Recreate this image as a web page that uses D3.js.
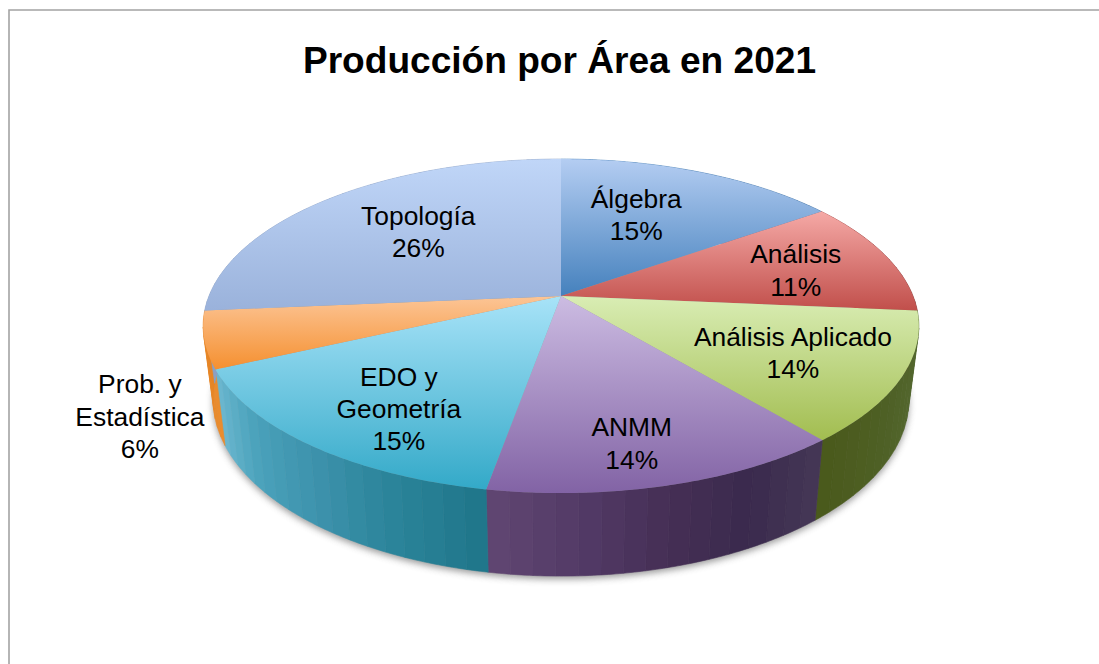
<!DOCTYPE html>
<html lang="es">
<head>
<meta charset="utf-8"/>
<title>Producción por Área en 2021</title>
<script src="https://d3js.org/d3.v7.min.js"></script>
<style>
  html, body { margin: 0; padding: 0; background: #fff; overflow: hidden; }
  svg { display: block; }
  text { font-family: "Liberation Sans", Arial, sans-serif; fill: #000; }
  .title { font-size: 37.1px; font-weight: bold; text-anchor: middle; }
  .label { font-size: 26.4px; text-anchor: middle; }
</style>
</head>
<body>
<div id="chart"></div>
<script>
// data
var title = "Producción por Área en 2021";
var areas = ["Álgebra", "Análisis", "Análisis Aplicado", "ANMM", "EDO y\nGeometría", "Prob. y\nEstadística", "Topología"];
var shares = [15.2, 11.2, 12.55, 13.85, 15.3, 5.5, 26.4]; // size of the drawn wedges
var percents = [15, 11, 14, 14, 15, 6, 26];               // what the labels print

// colours: top face [upper, lower], then side wall left to right along the rim
var topColors = [
  ["#b4cdf2", "#4581bd"],
  ["#f5a9a6", "#c14f4b"],
  ["#d9edb4", "#a2bd50"],
  ["#ccbce2", "#8263a5"],
  ["#a8e3f8", "#33a9c8"],
  ["#fcc596", "#f59030"],
  ["#c0d6f8", "#9ab2db"]
];
var wallColors = [
  ["#4581bd", "#3a6c9e"],
  ["#a33f3c", "#7a2f2d"],
  ["#566b35", "#4a5a1c"],
  ["#443655", "#3a2a4e", "#452f55", "#523a66", "#5f4571"],
  ["#20778b", "#2c859b", "#3e93ad", "#4aa2bb", "#6ab6ce"],
  ["#ea8c2e", "#e58526"],
  ["#8aa0c4", "#8aa0c4"]
];

// label placement: pixels away from the point at 0.62 radius on the wedge's mid angle
var labelNudge = [[-16, 0], [30, 0], [28, 8], [8, 39], [-16, 26], [-204, 94], [7, -1]];

var width = 1099,
    height = 664,
    cx = 561,
    cy = 296,
    radius = 352,
    persp = 0.18,
    squash = 161.6;

var svg = d3.select("#chart").append("svg")
    .attr("width", width)
    .attr("height", height);

var defs = svg.append("defs");
defs.append("filter")
    .attr("id", "soft")
    .attr("x", "-10%").attr("y", "-10%").attr("width", "120%").attr("height", "120%")
  .append("feGaussianBlur")
    .attr("stdDeviation", 3.5);

// chart frame, only left and top are showing
svg.append("path")
    .attr("d", "M9,664V10H1099")
    .attr("fill", "none")
    .attr("stroke", "#a3a3a3")
    .attr("stroke-width", 1.6);

// tilted disc: the circle in perspective, so the centre sits above the middle of the ellipse
function project(angle, r) {
  var u = r * Math.sin(angle),
      v = r * Math.cos(angle),
      d = 1 + persp * v;
  return [cx + radius * u / d, cy - squash * v / d];
}

// same rim, pushed down to the base of the disc
function projectBase(angle) {
  var p = project(angle, 1);
  return [cx + (p[0] - cx) * 0.972, 576 + (p[1] - 493) * 1.055];
}

function arcAngles(a0, a1, step) {
  var n = Math.max(1, Math.ceil((a1 - a0) / step));
  return d3.range(n + 1).map(function(i) { return a0 + (a1 - a0) * i / n; });
}

var line = d3.line();

var arcs = d3.pie().sort(null).value(function(d) { return d; })(shares);

// shadow under the disc
svg.append("path")
    .attr("d", line(arcAngles(0, 2 * Math.PI, 0.02).map(projectBase)) + "Z")
    .attr("transform", "translate(0,3)")
    .attr("fill", "#555")
    .attr("opacity", 0.6)
    .attr("filter", "url(#soft)");

// side walls, in strips so the shading bands show
var walls = svg.append("g");
var stripStep = 3.2 * Math.PI / 180;

arcs.forEach(function(arc, i) {
  var stops = wallColors[i];
  var color = d3.scaleLinear()
      .domain(stops.map(function(c, j) { return j / (stops.length - 1); }))
      .range(stops);
  var angles = arcAngles(arc.startAngle, arc.endAngle, stripStep);
  d3.pairs(angles).forEach(function(pair, j) {
    var sub = arcAngles(pair[0], pair[1], 0.01);
    var fill = color(j / Math.max(1, angles.length - 2));
    walls.append("path")
        .attr("d", line(sub.map(function(a) { return project(a, 1); })
            .concat(sub.slice().reverse().map(projectBase))) + "Z")
        .attr("fill", fill)
        .attr("stroke", fill)
        .attr("stroke-width", 0.6);
  });
});

// top faces
var faces = svg.append("g");

arcs.forEach(function(arc, i) {
  var id = "face" + i;
  var grad = defs.append("linearGradient")
      .attr("id", id)
      .attr("x1", 0).attr("y1", 0).attr("x2", 0).attr("y2", 1);
  grad.append("stop").attr("offset", 0).attr("stop-color", topColors[i][0]);
  grad.append("stop").attr("offset", 1).attr("stop-color", topColors[i][1]);

  var rim = arcAngles(arc.startAngle, arc.endAngle, 0.01)
      .map(function(a) { return project(a, 1); });
  faces.append("path")
      .attr("d", line([[cx, cy]].concat(rim)) + "Z")
      .attr("fill", "url(#" + id + ")");
});

// title and labels
svg.append("text")
    .attr("class", "title")
    .attr("x", 559.5)
    .attr("y", 72.5)
    .text(title);

var lineHeight = 32.4;

arcs.forEach(function(arc, i) {
  var mid = (arc.startAngle + arc.endAngle) / 2,
      p = project(mid, 0.62),
      lines = areas[i].split("\n").concat(percents[i] + "%"),
      x = p[0] + labelNudge[i][0],
      y = p[1] + labelNudge[i][1] - (lines.length - 1) * lineHeight / 2 + 9;
  var label = svg.append("text").attr("class", "label");
  lines.forEach(function(t, j) {
    label.append("tspan")
        .attr("x", x)
        .attr("y", y + j * lineHeight)
        .text(t);
  });
});
</script>
</body>
</html>
